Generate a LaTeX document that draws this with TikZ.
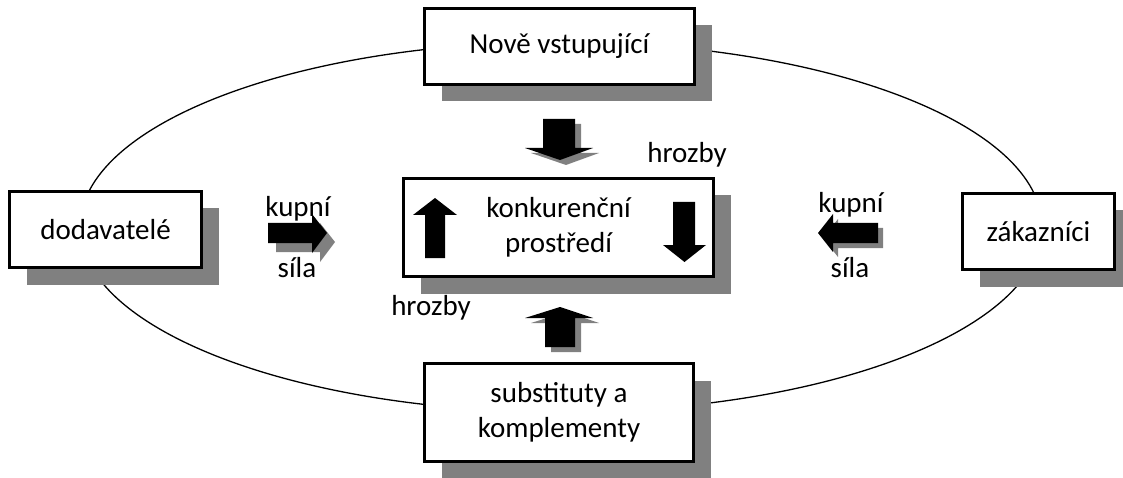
\documentclass[tikz,border=0pt]{standalone}
\usepackage{fontspec}
\setmainfont{Carlito}
\usetikzlibrary{shadows}
\definecolor{shadowgray}{RGB}{128,128,128}
\tikzset{
  box/.style={draw=black, line width=3pt, fill=white, rectangle, inner sep=0pt,
    align=center, font=\fontsize{29}{35}\selectfont,
    drop shadow={shadow xshift=17pt, shadow yshift=-17pt, fill=shadowgray, opacity=1}},
  lbl/.style={font=\fontsize{29}{35}\selectfont, anchor=base, inner sep=0pt},
  blockarr/.style={fill=black, draw=none},
  arrshadow/.style={fill=shadowgray, draw=none},
  ring/.style={draw=black, line width=1.3pt}
}
\begin{document}
\begin{tikzpicture}[x=1pt, y=-1pt]
\useasboundingbox (0,0) rectangle (1123,478);
% ellipse behind the boxes
\draw[ring] (561,227) ellipse [x radius=481, y radius=185];

% boxes
\node[box, minimum width=270pt, minimum height=76pt] (new) at (559.5,46.5) {Nově vstupující};
\node[box, minimum width=192pt, minimum height=76pt] (sup) at (105.5,229.5) {dodavatelé};
\node[box, minimum width=152pt, minimum height=76pt] (cus) at (1038.5,231.5) {zákazníci};
\node[box, minimum width=310pt, minimum height=98pt] (comp) at (558.5,227.5) {konkurenční\\prostředí};
\node[box, minimum width=269pt, minimum height=98pt] (subs) at (559,412.5) {substituty a\\komplementy};

% top arrow (down)
\fill[arrshadow, shift={(6,5)}] (543,119)--(575,119)--(575,148)--(593,148)--(560,160)--(525,148)--(543,148)--cycle;
\fill[blockarr] (543,119)--(575,119)--(575,148)--(593,148)--(560,160)--(525,148)--(543,148)--cycle;
% bottom arrow (up)
\fill[arrshadow, shift={(6,5)}] (545,347)--(575,347)--(575,318)--(593,318)--(560,307)--(525,318)--(545,318)--cycle;
\fill[blockarr] (545,347)--(575,347)--(575,318)--(593,318)--(560,307)--(525,318)--(545,318)--cycle;
% left arrow (right)
\fill[arrshadow, shift={(8,9)}] (268,223)--(312,223)--(312,214)--(327,233)--(312,253)--(312,243)--(268,243)--cycle;
\fill[blockarr] (268,223)--(312,223)--(312,214)--(327,233)--(312,253)--(312,243)--(268,243)--cycle;
% right arrow (left)
\fill[arrshadow, shift={(5,5)}] (878,223)--(833,223)--(833,214)--(818,233)--(833,252)--(833,243)--(878,243)--cycle;
\fill[blockarr] (878,223)--(833,223)--(833,214)--(818,233)--(833,252)--(833,243)--(878,243)--cycle;
% arrows inside the centre box
\fill[blockarr] (425,258)--(445,258)--(445,215)--(457,215)--(435,198)--(413,215)--(425,215)--cycle;
\fill[blockarr] (673,202)--(695,202)--(695,245)--(706,245)--(684.5,262)--(663,245)--(673,245)--cycle;

% labels
\node[lbl] (kl) at (298,217) {kupní};
\node[lbl] (sl) at (297,277) {síla};
\node[lbl] (kr) at (851,213) {kupní};
\node[lbl] (sr) at (850,277) {síla};
\node[lbl] (h1) at (687,163) {hrozby};
\node[lbl] (h2) at (431,315) {hrozby};
\end{tikzpicture}
\end{document}
